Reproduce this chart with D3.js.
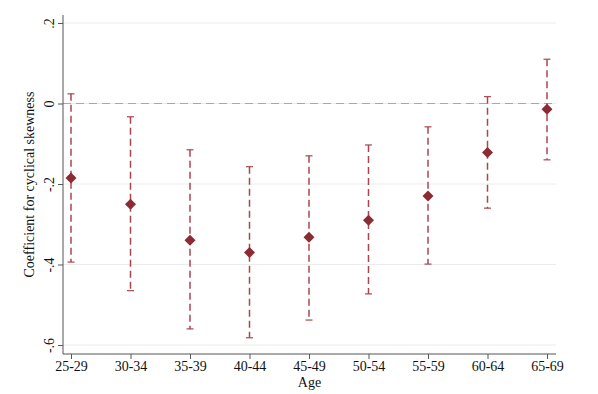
<!DOCTYPE html>
<html><head><meta charset="utf-8">
<script src="https://cdn.jsdelivr.net/npm/d3@7"></script>
<style>body{margin:0;background:#fff}</style>
</head><body>
<script>
const categories = ["25-29","30-34","35-39","40-44","45-49","50-54","55-59","60-64","65-69"];
const coef  = [-0.185,-0.250,-0.340,-0.370,-0.332,-0.290,-0.230,-0.122,-0.014];
const upper = [ 0.024,-0.033,-0.115,-0.157,-0.130,-0.103,-0.058, 0.017, 0.110];
const lower = [-0.394,-0.465,-0.560,-0.582,-0.538,-0.473,-0.399,-0.260,-0.140];
const yTicks = [0.2,0,-0.2,-0.4,-0.6];
const yTickLabels = [".2","0","-.2","-.4","-.6"];

(function(){
const W=598,H=394;
const svg=d3.select("body").append("svg").attr("width",W).attr("height",H);
const pl=63,pr=556,pt=15,pb=354;
const x=d3.scalePoint().domain(categories).range([71,547]);
const y=d3.scaleLinear().domain([-0.6,0.2]).range([345,23]);
const font="'Liberation Serif','Times New Roman',serif";
const red="#8b2b33", barc="#a9474f";

// gridlines
svg.append("g").selectAll("line").data(yTicks).join("line")
  .attr("x1",pl).attr("x2",pr).attr("y1",d=>y(d)).attr("y2",d=>y(d))
  .attr("stroke","#ececec").attr("stroke-width",1);
// zero reference line
svg.append("line").attr("x1",pl).attr("x2",pr).attr("y1",y(0)).attr("y2",y(0))
  .attr("stroke","#a8a8a8").attr("stroke-width",1.2).attr("stroke-dasharray","8,5");

// axes
const ya=svg.append("g").attr("transform",`translate(${pl},0)`)
  .call(d3.axisLeft(y).tickValues(yTicks).tickFormat((d,i)=>yTickLabels[i]).tickSize(5).tickSizeOuter(0));
ya.select(".domain").attr("d",`M0,${pt}V${pb}`).attr("stroke","#555");
ya.selectAll(".tick line").attr("stroke","#555");
ya.selectAll(".tick text").attr("font-family",font).attr("font-size",14).attr("fill","#111")
  .attr("transform","rotate(-90)").attr("text-anchor","middle").attr("x",0).attr("dy",0).attr("y",-9);

const xa=svg.append("g").attr("transform",`translate(0,${pb})`)
  .call(d3.axisBottom(x).tickSize(5).tickSizeOuter(0));
xa.select(".domain").attr("d",`M${pl},0H${pr}`).attr("stroke","#555");
xa.selectAll(".tick line").attr("stroke","#555");
xa.selectAll(".tick text").attr("font-family",font).attr("font-size",14).attr("fill","#111").attr("y",7);

// titles
svg.append("text").attr("x",(pl+pr)/2).attr("y",387).attr("text-anchor","middle")
  .attr("font-family",font).attr("font-size",14).attr("fill","#111").text("Age");
svg.append("text").attr("transform",`translate(34,${(pt+pb)/2}) rotate(-90)`).attr("text-anchor","middle")
  .attr("font-family",font).attr("font-size",14).attr("fill","#111").text("Coefficient for cyclical skewness");

// error bars
const g=svg.append("g");
categories.forEach((c,i)=>{
  const cx=x(c);
  g.append("line").attr("x1",cx).attr("x2",cx).attr("y1",y(upper[i])).attr("y2",y(lower[i]))
    .attr("stroke",barc).attr("stroke-width",1.5).attr("stroke-dasharray","7,4");
  [upper[i],lower[i]].forEach(v=>{
    g.append("line").attr("x1",cx-3.5).attr("x2",cx+3.5).attr("y1",y(v)).attr("y2",y(v))
      .attr("stroke",barc).attr("stroke-width",1.2);
  });
});
// markers
svg.append("g").selectAll("path").data(categories).join("path")
  .attr("transform",(d,i)=>`translate(${x(d)},${y(coef[i])})`)
  .attr("d","M0,-5.5L5.5,0L0,5.5L-5.5,0Z").attr("fill",red);
})();
</script>
</body></html>
